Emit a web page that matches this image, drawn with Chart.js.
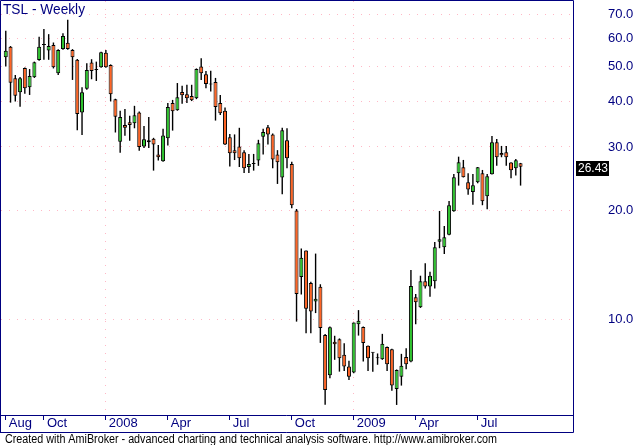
<!DOCTYPE html>
<html>
<head>
<meta charset="utf-8">
<script src="https://cdn.jsdelivr.net/npm/chart.js@4.4.0/dist/chart.umd.min.js"></script>
<style>
  html, body { margin: 0; padding: 0; background: #fff; }
  canvas { display: block; }
</style>
</head>
<body>
<canvas id="chart" width="634" height="445"></canvas>
<script>
// weekly bars, Aug 2007 - Aug 2009, one entry per week
const opens = [
  53.2, 56.8, 46.5, 42.5, 49.6, 43.9, 46.8, 52.2, 57.5, 55.5,
  57.5, 48.0, 56.0, 58.3, 55.7, 52.3, 37.4, 43.5, 51.4, 49.0,
  49.9, 54.7, 50.6, 40.7, 31.0, 34.5, 35.1, 34.9, 37.4, 30.1,
  30.9, 31.6, 28.6, 27.4, 31.7, 39.7, 37.9, 42.6, 42.0, 41.5,
  40.9, 50.1, 47.7, 44.8, 45.4, 39.7, 37.8, 31.9, 29.4, 30.1,
  29.0, 26.4, 26.9, 27.5, 32.0, 34.0, 32.5, 28.6, 24.7, 31.3,
  26.9, 20.0, 13.1, 15.5, 12.6, 11.2, 12.3, 9.05, 7.0, 8.66,
  8.8, 7.97, 7.40, 7.12, 9.69, 9.51, 8.44, 8.08, 7.80, 7.75,
  8.38, 8.26, 6.41, 6.93, 7.86, 7.64, 11.5, 10.8, 12.74, 12.32,
  12.74, 16.40, 15.83, 17.15, 19.91, 25.37, 26.36, 23.96, 22.52, 23.96,
  25.37, 21.91, 25.21, 30.92, 28.87, 29.0, 27.15, 26.19, 27.04
];
const highs = [
  62.9, 57.1, 47.5, 46.9, 49.8, 49.3, 51.7, 60.6, 63.7, 61.6,
  58.4, 55.9, 62.0, 67.5, 56.0, 52.6, 43.9, 51.2, 52.5, 51.7,
  55.1, 55.7, 50.8, 40.8, 37.8, 38.2, 36.6, 39.0, 37.6, 34.3,
  36.3, 31.8, 30.4, 33.7, 39.7, 40.5, 45.1, 44.3, 44.6, 44.6,
  49.5, 52.8, 48.7, 48.8, 46.6, 41.8, 38.6, 32.6, 32.5, 33.9,
  29.4, 28.7, 28.7, 31.4, 33.7, 34.5, 32.7, 29.4, 33.9, 33.8,
  27.3, 20.2, 15.7, 15.5, 12.7, 15.2, 12.5, 9.1, 9.55, 9.0,
  8.85, 8.58, 7.67, 9.8, 10.6, 9.55, 8.46, 8.10, 8.04, 9.11,
  8.40, 8.28, 7.26, 8.02, 8.31, 13.7, 11.75, 13.2, 14.3, 13.53,
  16.37, 19.95, 18.13, 21.26, 25.26, 28.2, 27.62, 25.37, 25.26, 26.4,
  25.91, 25.26, 32.19, 31.57, 30.2, 30.2, 27.2, 27.79, 27.1
];
const lows = [
  50.1, 39.8, 40.1, 38.8, 42.1, 41.8, 46.6, 52.0, 52.3, 52.3,
  49.5, 47.5, 55.8, 55.8, 46.0, 33.4, 32.4, 43.2, 46.2, 45.7,
  49.7, 49.7, 40.1, 32.9, 28.9, 32.2, 31.2, 33.8, 29.3, 29.8,
  29.8, 25.8, 27.5, 27.3, 30.3, 33.3, 37.8, 39.5, 39.7, 40.2,
  40.7, 46.0, 43.6, 42.7, 35.5, 36.8, 30.4, 26.5, 27.6, 26.4,
  25.4, 25.4, 25.8, 26.6, 28.6, 30.5, 26.2, 23.7, 22.2, 26.2,
  20.3, 9.85, 11.7, 9.15, 9.15, 10.4, 8.6, 5.8, 6.86, 7.72,
  7.16, 7.19, 6.79, 7.09, 9.01, 7.64, 7.19, 7.16, 7.48, 7.72,
  7.19, 6.34, 5.79, 6.55, 7.27, 7.60, 9.69, 10.75, 12.16, 11.55,
  12.16, 15.73, 15.17, 17.09, 19.85, 23.45, 24.7, 22.13, 20.77, 23.8,
  20.69, 20.17, 25.15, 26.63, 28.1, 26.63, 24.58, 24.99, 23.45
];
const closes = [
  55.4, 45.2, 41.6, 46.5, 43.6, 47.2, 51.5, 56.8, 57.6, 57.1,
  49.9, 55.7, 60.9, 56.0, 53.2, 37.0, 42.5, 49.0, 48.7, 49.1,
  54.9, 49.9, 42.0, 36.4, 36.3, 33.9, 34.5, 36.7, 30.0, 31.5,
  31.3, 30.5, 28.1, 32.3, 38.7, 37.7, 41.2, 41.7, 40.9, 40.4,
  49.3, 48.0, 44.8, 44.7, 38.7, 37.2, 30.5, 28.8, 28.8, 27.9,
  26.2, 26.9, 27.0, 30.7, 33.0, 32.5, 27.7, 27.2, 33.4, 27.9,
  20.7, 11.75, 14.8, 10.7, 10.5, 11.4, 9.45, 6.37, 9.5, 8.53,
  7.8, 7.40, 6.93, 9.79, 9.90, 8.59, 7.80, 8.07, 7.81, 8.55,
  7.51, 6.55, 7.24, 7.43, 7.51, 12.37, 11.15, 12.74, 12.32, 13.19,
  15.83, 16.65, 16.87, 20.69, 24.74, 27.22, 24.74, 22.86, 23.51, 26.36,
  21.22, 24.89, 30.92, 28.10, 28.46, 28.10, 25.86, 27.57, 26.43
];

const xTickWeeks = [0, 8, 21, 34, 47, 60, 73, 86, 99];
const xTickLabels = ["Aug", "Oct", "2008", "Apr", "Jul", "Oct", "2009", "Apr", "Jul"];
const yearWeeks = [21, 73];
const yTicks = [10, 20, 30, 40, 50, 60, 70];
const lastPrice = 26.43;

const upColor = "#2ec42e";
const downColor = "#ff6424";
const navy = "#000080";
const gridPink = "#ffb8c6";
const sans = "'Liberation Sans', Arial, sans-serif";
const labelFont = { family: sans, size: 13 };

const bodyColors = opens.map((o, i) => closes[i] >= o ? upColor : downColor);

const framePlugin = {
  id: "frame",
  afterDraw(chart) {
    const ctx = chart.ctx;
    const area = chart.chartArea;
    const r = area.right + 0.5;
    const b = area.bottom + 0.5;
    ctx.save();
    ctx.strokeStyle = navy;
    ctx.lineWidth = 1;
    ctx.beginPath();
    ctx.moveTo(0.5, b + 17); ctx.lineTo(0.5, 0.5); ctx.lineTo(r, 0.5); ctx.lineTo(r, b + 17); ctx.lineTo(0, b + 17);
    ctx.moveTo(0, b); ctx.lineTo(r, b);
    ctx.stroke();

    ctx.fillStyle = navy;
    ctx.font = "14px " + sans;
    ctx.textBaseline = "alphabetic";
    ctx.fillText("TSL - Weekly", 3, 14, 82);

    // last price marker on the axis
    const yy = Math.round(chart.scales.y.getPixelForValue(lastPrice));
    ctx.fillStyle = "#000";
    ctx.fillRect(area.right + 3, yy - 6, 33, 15);
    ctx.fillStyle = "#fff";
    ctx.font = "13px " + sans;
    ctx.textBaseline = "middle";
    ctx.fillText(lastPrice.toFixed(2), area.right + 5, yy + 1.5, 30);

    ctx.fillStyle = "#000";
    ctx.font = "12px " + sans;
    ctx.textBaseline = "alphabetic";
    ctx.fillText("Created with AmiBroker - advanced charting and technical analysis software. http://www.amibroker.com", 5, 443, 492);
    ctx.restore();
  }
};

new Chart(document.getElementById("chart"), {
  type: "bar",
  data: {
    datasets: [
      {
        label: "Body",
        data: opens.map((o, i) => ({ x: i, y: [o, closes[i]] })),
        backgroundColor: bodyColors,
        borderColor: "#000",
        borderWidth: 1,
        borderSkipped: false,
        maxBarThickness: 4,
        minBarLength: 1,
        order: 0
      },
      {
        label: "Range",
        data: lows.map((l, i) => ({ x: i, y: [l, highs[i]] })),
        backgroundColor: "#000",
        borderWidth: 0,
        maxBarThickness: 1.4,
        order: 1
      }
    ]
  },
  options: {
    responsive: false,
    animation: false,
    devicePixelRatio: 1,
    layout: { padding: { left: 1, top: 1, right: 0, bottom: 0 } },
    datasets: { bar: { grouped: false, barPercentage: 1, categoryPercentage: 1, inflateAmount: 0 } },
    plugins: { legend: { display: false }, tooltip: { enabled: false } },
    scales: {
      x: {
        type: "linear",
        min: -1,
        max: 119,
        bounds: "data",
        offset: false,
        afterBuildTicks: s => { s.ticks = xTickWeeks.map(v => ({ value: v })); },
        afterFit: s => { s.height = 30; s.paddingLeft = 0; s.paddingRight = 0; },
        ticks: {
          callback: (v, i) => xTickLabels[i],
          autoSkip: false,
          maxRotation: 0,
          align: "start",
          labelOffset: 3,
          padding: -4,
          color: navy,
          font: labelFont
        },
        grid: {
          offset: false,
          color: c => (c.tick && yearWeeks.includes(c.tick.value)) ? gridPink : "rgba(0,0,0,0)",
          tickColor: navy,
          tickLength: 5
        },
        border: { display: false, dash: [1, 7] }
      },
      y: {
        type: "logarithmic",
        position: "right",
        min: 5.43,
        max: 76.1,
        bounds: "data",
        afterBuildTicks: s => { s.ticks = yTicks.map(v => ({ value: v })); },
        afterFit: s => { s.width = 61; s.paddingTop = 0; s.paddingBottom = 0; },
        ticks: {
          callback: v => Number(v).toFixed(1),
          autoSkip: false,
          padding: 35,
          color: navy,
          font: labelFont
        },
        grid: { color: gridPink, drawTicks: false },
        border: { display: false, dash: [1, 7] }
      }
    }
  },
  plugins: [framePlugin]
});
</script>
</body>
</html>
